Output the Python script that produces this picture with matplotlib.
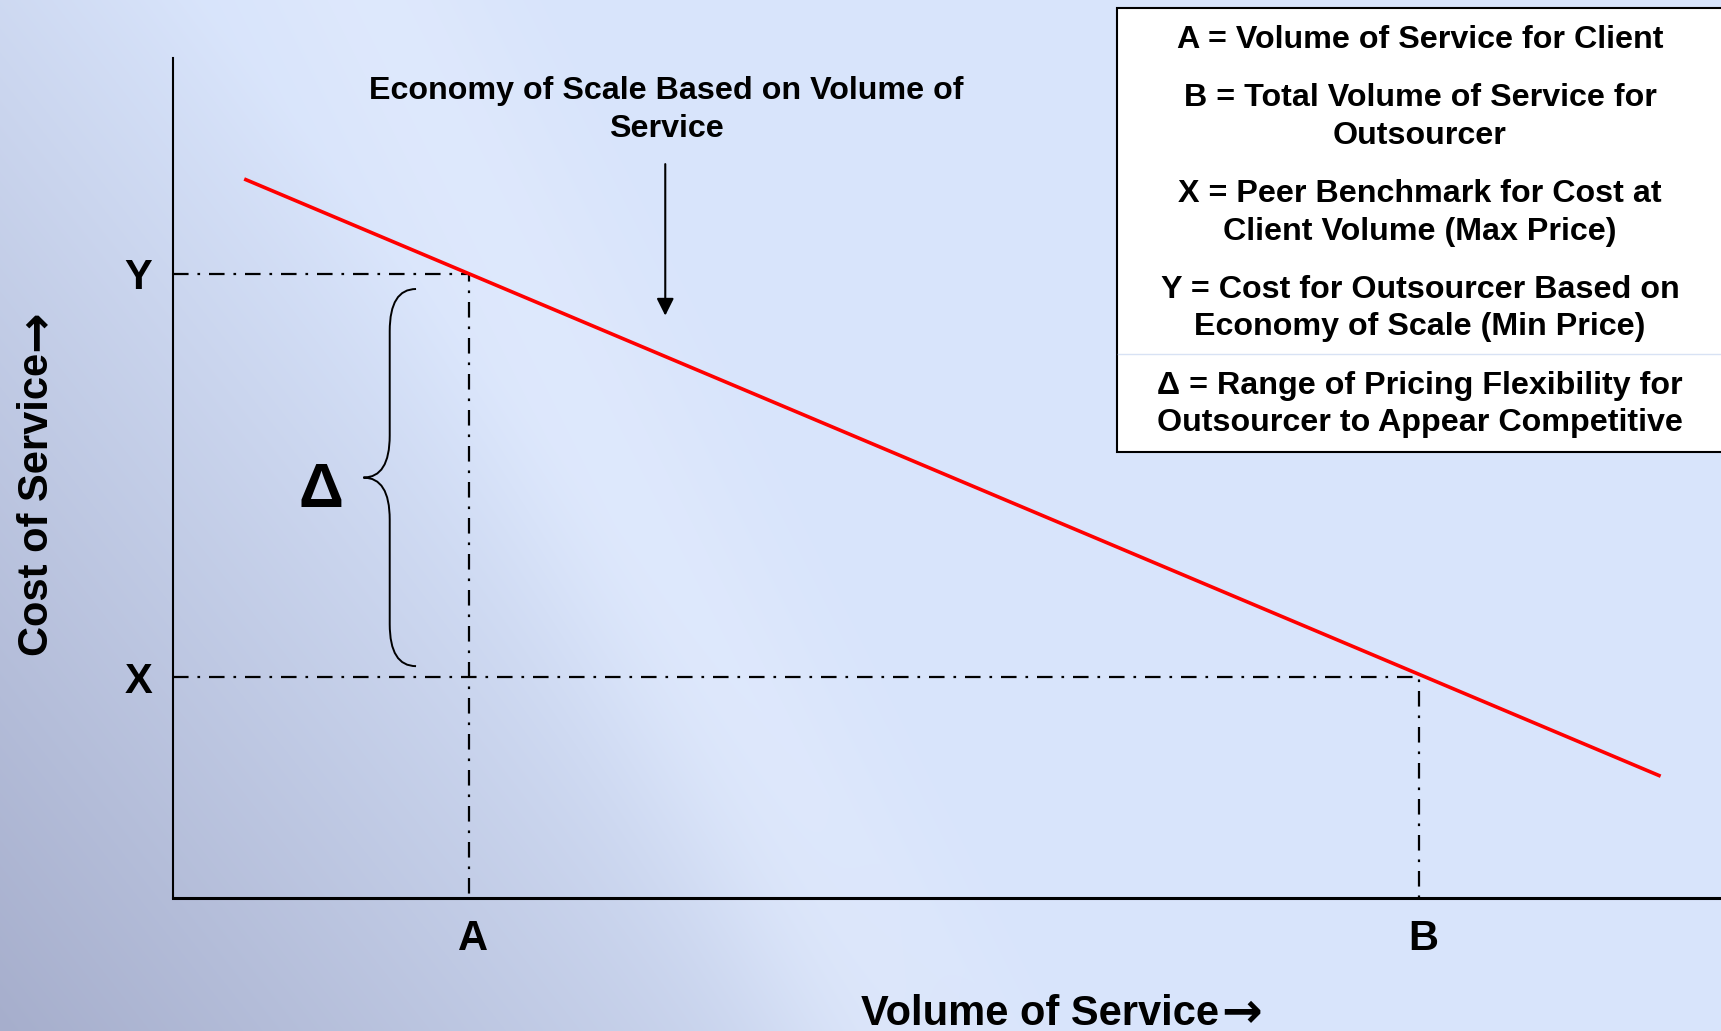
import numpy as np
import matplotlib
matplotlib.use("Agg")
import matplotlib.pyplot as plt
from matplotlib.path import Path
from matplotlib.patches import PathPatch, Rectangle
from matplotlib.transforms import ScaledTranslation

plt.rcParams['font.family'] = ['Liberation Sans', 'DejaVu Sans']

# Kurve: Kosten sinken mit dem Volumen (Achsen 0..100)
volume = [4.6, 96.1]
cost = [85.6, 14.5]

# markierte Punkte
a_vol = 19.1
b_vol = 80.5
y_cost = 74.3
x_cost = 26.3

x_ticks = [a_vol, b_vol]
x_tick_labels = ['A', 'B']
y_ticks = [x_cost, y_cost]
y_tick_labels = ['X', 'Y']

arrow_vol = 31.8
arrow_from = 87.7
arrow_to = 69.0

title_lines = ['Economy of Scale Based on Volume of', 'Service']

legend_entries = [
    ['A = Volume of Service for Client'],
    ['B = Total Volume of Service for', 'Outsourcer'],
    ['X = Peer Benchmark for Cost at', 'Client Volume (Max Price)'],
    ['Y = Cost for Outsourcer Based on', 'Economy of Scale (Min Price)'],
    ['Δ = Range of Pricing Flexibility for', 'Outsourcer to Appear Competitive'],
]

W, H = 1721, 1031
fig = plt.figure(figsize=(W / 100, H / 100), dpi=100)

# Hintergrund (Verlauf wie Folienvorlage)
bg = fig.add_axes([0, 0, 1, 1])
yy, xx = np.mgrid[0:H, 0:W]
u = xx / W
v = yy / H
dark = np.clip(1.0 - 1.7 * u - 0.8 * (1 - v), 0, 1)
band = np.exp(-((u - (0.22 + 0.30 * v)) / 0.07) ** 2)
light_c = np.array([216, 228, 251]) / 255
dark_c = np.array([166, 174, 204]) / 255
hi_c = np.array([226, 235, 253]) / 255
img = light_c + (dark_c - light_c) * dark[..., None]
img = img + (hi_c - img) * (0.6 * band)[..., None]
bg.imshow(img, extent=(0, W, H, 0), aspect='auto', zorder=0)
bg.set_xlim(0, W)
bg.set_ylim(H, 0)
bg.axis('off')

# Legende als Kasten oben rechts
bg.add_patch(Rectangle((1117, 8), 640, 444, facecolor='white', edgecolor='black', lw=1.5, zorder=2))
bg.plot([1118, W], [354, 354], color='#d8e2f4', lw=1, zorder=3)
base = 48
for entry in legend_entries:
    for i, line in enumerate(entry):
        bg.text(1420, base + i * 37.3, line, ha='center', va='baseline',
                fontsize=23.2, fontweight='bold', zorder=4)
    base += (len(entry) - 1) * 37.3 + 58.5

# Beschriftungen
for i, line in enumerate(title_lines):
    bg.text(666, 99 + i * 38, line, ha='center', va='baseline', fontsize=23.2, fontweight='bold')
xlab = bg.text(861, 1025, 'Volume of Service', ha='left', va='baseline', fontsize=30, fontweight='bold')
ylab = bg.text(48, 656, 'Cost of Service', rotation=90, rotation_mode='anchor',
               ha='left', va='baseline', fontsize=30, fontweight='bold')
bg.text(321, 507, 'Δ', ha='center', va='baseline', fontsize=45, fontweight='bold')

# Pfeile hinter den Achsentiteln
fig.canvas.draw()
rend = fig.canvas.get_renderer()
inv = bg.transData.inverted()
bb = xlab.get_window_extent(rend)
x_end = inv.transform((bb.x1, bb.y0))[0]
bg.text(x_end + 2, 1027, '→', ha='left', va='baseline', fontsize=35, fontweight='bold', family='DejaVu Sans')
bb = ylab.get_window_extent(rend)
y_end = inv.transform((bb.x0, bb.y1))[1]
bg.text(50, y_end - 2, '→', rotation=90, rotation_mode='anchor', ha='left', va='baseline',
        fontsize=35, fontweight='bold', family='DejaVu Sans')

# Diagramm
ax = fig.add_axes([173 / W, (H - 898) / H, (W - 173) / W, (898 - 58) / H])
ax.set_facecolor('none')
ax.set_xlim(0, 100)
ax.set_ylim(0, 100)
for s in ['top', 'right']:
    ax.spines[s].set_visible(False)
ax.spines['left'].set_linewidth(1.5)
ax.spines['bottom'].set_linewidth(2.2)

ax.set_xticks(x_ticks, x_tick_labels)
ax.set_yticks(y_ticks, y_tick_labels)
ax.tick_params(length=0, labelsize=30, pad=15)
shift = ScaledTranslation(4 / 100, 0, fig.dpi_scale_trans)
for lab in ax.get_xticklabels():
    lab.set_fontweight('bold')
    lab.set_transform(lab.get_transform() + shift)
for lab in ax.get_yticklabels():
    lab.set_fontweight('bold')

dashdot = (0, (7, 4, 1.2, 4))
ax.plot([0, a_vol, a_vol], [y_cost, y_cost, 0], color='black', lw=1.6, linestyle=dashdot)
ax.plot([0, b_vol, b_vol], [x_cost, x_cost, 0], color='black', lw=1.6, linestyle=dashdot)

ax.plot(volume, cost, color='#ff0000', lw=2.6, solid_capstyle='butt')

ax.annotate('', xy=(arrow_vol, arrow_to), xytext=(arrow_vol, arrow_from),
            arrowprops=dict(arrowstyle='-|>', color='black', lw=1.5, mutation_scale=26))

# geschweifte Klammer zwischen Y und X
top = y_cost - 1.8
bot = x_cost + 1.3
mid = (top + bot) / 2
xt, xv, xp = 15.7, 14.0, 12.3
r = 5.0
verts = [
    (xt, top), (xv, top), (xv, top - r),
    (xv, mid + r),
    (xv, mid), (xp, mid),
    (xv, mid), (xv, mid - r),
    (xv, bot + r),
    (xv, bot), (xt, bot),
]
codes = [Path.MOVETO, Path.CURVE3, Path.CURVE3,
         Path.LINETO,
         Path.CURVE3, Path.CURVE3,
         Path.CURVE3, Path.CURVE3,
         Path.LINETO,
         Path.CURVE3, Path.CURVE3]
ax.add_patch(PathPatch(Path(verts, codes), facecolor='none', edgecolor='black', lw=1.4))

fig.savefig('out.png', dpi=100)
